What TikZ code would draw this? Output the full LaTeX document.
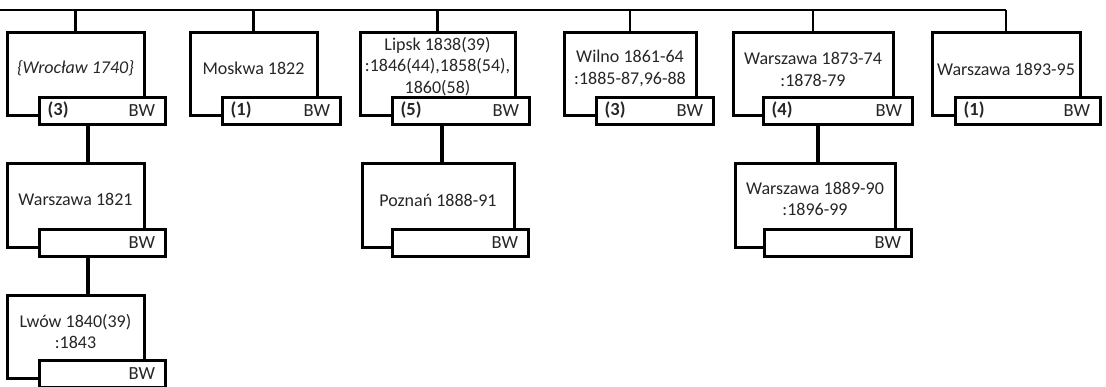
\documentclass[tikz,border=0pt]{standalone}
\usepackage{fontspec}
\setmainfont{Carlito}
\usetikzlibrary{positioning}
\tikzset{
  bigbox/.style={draw,line width=3pt,minimum height=83,inner sep=0pt},
  numbox/.style={draw,fill=white,line width=3pt,minimum height=27,inner xsep=10,inner ysep=0pt,
    align=right,font=\fontsize{18.5}{21}\selectfont,text=black!85},
  txt/.style={font=\fontsize{18}{21.5}\selectfont,align=center,text=black!85},
  nr/.style={font=\fontsize{18.5}{21}\selectfont\bfseries,text=black!85,anchor=west,inner sep=0pt},
  bus/.style={line width=2.8pt},
  link/.style={line width=4pt},
}
\begin{document}
\begin{tikzpicture}[x=1pt,y=-1pt]
  \useasboundingbox (0,0) rectangle (1106,386);
  % Ramki miejsc (rzad 1)
  \node[bigbox,minimum width=137] (wro) at (75.5,73.5) {};
  \node[bigbox,minimum width=127] (mos) at (253.5,73.5) {};
  \node[bigbox,minimum width=155] (lip) at (437.5,73.5) {};
  \node[bigbox,minimum width=132] (wil) at (630,73.5) {};
  \node[bigbox,minimum width=160] (warA) at (813,73.5) {};
  \node[bigbox,minimum width=148] (warB) at (1006,73.5) {};
  % Ramki miejsc (rzad 2 i 3)
  \node[bigbox,minimum width=137,minimum height=84] (warC) at (75.5,205) {};
  \node[bigbox,minimum width=152,minimum height=84] (poz) at (438,205) {};
  \node[bigbox,minimum width=160,minimum height=84] (warD) at (815,205) {};
  \node[bigbox,minimum width=137] (lwo) at (75.5,336.5) {};

  % Szyna u gory
  \coordinate (busL) at (0,10);
  \draw[bus] (busL) -- (warB.north |- busL);
  \foreach \n in {wro,mos,lip,wil,warA,warB}
    \draw[bus] (\n.north) -- (\n.north |- busL);

  % Napisy w ramkach
  \node[txt,font=\fontsize{18}{21.5}\selectfont\itshape] (wroT) at ([yshift=5]wro.center) {\{Wrocław 1740\}};
  \node[txt] (mosT) at ([yshift=5]mos.center) {Moskwa 1822};
  \node[txt] (lipT) at ([yshift=7]lip.center) {Lipsk 1838(39)\\:1846(44),1858(54),\\1860(58)};
  \node[txt] (wilT) at ([yshift=5]wil.center) {Wilno 1861-64\\:1885-87,96-88};
  \node[txt] (warAT) at ([yshift=4]warA.center) {Warszawa 1873-74\\:1878-79};
  \node[txt] (warBT) at ([yshift=4]warB.center) {Warszawa 1893-95};
  \node[txt] (warCT) at ([yshift=6]warC.center) {Warszawa 1821};
  \node[txt] (pozT) at ([yshift=5]poz.center) {Poznań 1888-91};
  \node[txt] (warDT) at ([yshift=6]warD.center) {Warszawa 1889-90\\:1896-99};
  \node[txt] (lwoT) at ([yshift=5]lwo.center) {Lwów 1840(39)\\:1843};

  % Polaczenia miedzy rzedami
  \draw[link] ([xshift=12.5]warC.north) -- ([xshift=12.5]warC.north |- wro.south);
  \draw[link] ([xshift=12.5]lwo.north) -- ([xshift=12.5]lwo.north |- warC.south);
  \draw[link] ([xshift=4]poz.north) -- ([xshift=4]poz.north |- lip.south);
  \draw[link] ([xshift=3]warD.north) -- ([xshift=3]warD.north |- warA.south);

  % Paski BW
  \node[numbox,text width=106] (wroN) at (102,110.5) {BW};
  \node[numbox,text width=98] (mosN) at (281,110.5) {BW};
  \node[numbox,text width=117] (lipN) at (460.5,110.5) {BW};
  \node[numbox,text width=97] (wilN) at (654.5,110.5) {BW};
  \node[numbox,text width=129] (warAN) at (837.5,110.5) {BW};
  \node[numbox,text width=125] (warBN) at (1027.5,110.5) {BW};
  \node[numbox,text width=106] (warCN) at (102,242.5) {BW};
  \node[numbox,text width=116] (pozN) at (460,242.5) {BW};
  \node[numbox,text width=127] (warDN) at (837.5,242.5) {BW};
  \node[numbox,text width=106] (lwoN) at (102,373.5) {BW};
  % Liczby
  \node[nr] (wroNr) at ([xshift=10]wroN.west) {(3)};
  \node[nr] (mosNr) at ([xshift=10]mosN.west) {(1)};
  \node[nr] (lipNr) at ([xshift=10]lipN.west) {(5)};
  \node[nr] (wilNr) at ([xshift=10]wilN.west) {(3)};
  \node[nr] (warANr) at ([xshift=10]warAN.west) {(4)};
  \node[nr] (warBNr) at ([xshift=10]warBN.west) {(1)};
\end{tikzpicture}
\end{document}
